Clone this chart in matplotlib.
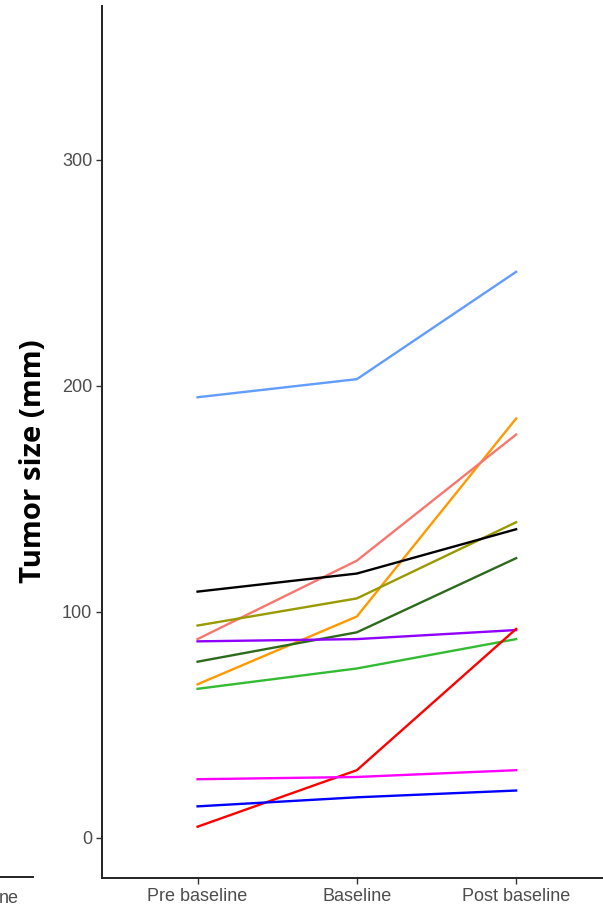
import matplotlib
matplotlib.use("Agg")
import matplotlib.pyplot as plt
from matplotlib.lines import Line2D

categories = ["Pre baseline", "Baseline", "Post baseline"]
yticks = [0, 100, 200, 300]

patients = ["P1", "P2", "P3", "P4", "P5", "P6", "P7", "P8", "P9", "P10", "P11"]
values = {
    "P1": [195, 203, 250.5],
    "P2": [68, 98, 185.6],
    "P3": [88, 122.7, 178.5],
    "P4": [94, 106, 139.7],
    "P5": [109, 117, 136.6],
    "P6": [78, 91, 123.8],
    "P7": [87, 88, 92],
    "P8": [66, 75, 88],
    "P9": [5, 30, 92.5],
    "P10": [26, 27, 30],
    "P11": [14, 18, 21],
}
colors = {
    "P1": "#619CFF",
    "P2": "#FF9900",
    "P3": "#F8766D",
    "P4": "#999900",
    "P5": "#000000",
    "P6": "#2D6A1E",
    "P7": "#8F00FF",
    "P8": "#33BB33",
    "P9": "#FF0000",
    "P10": "#FF00FF",
    "P11": "#0000FF",
}

fig = plt.figure(figsize=(6.03, 9.07), dpi=100)
ax = fig.add_axes([102 / 603, 1 - 878 / 907, 509.7 / 603, 872 / 907])

x = list(range(1, len(categories) + 1))
for p in patients:
    ax.plot(x, values[p], color=colors[p], lw=1.7, solid_joinstyle="round")

ax.set_xlim(0.4, 3.6)
ax.set_ylim(-17.7, 368.1)
ax.set_xticks(x)
ax.set_xticklabels(categories, fontfamily="Liberation Sans", fontsize=13, color="#4D4D4D")
ax.set_yticks(yticks)
ax.set_yticklabels([str(t) for t in yticks], fontfamily="Liberation Sans", fontsize=13, color="#4D4D4D")
ax.tick_params(axis="both", length=4, width=1, color="#333333", pad=3)
for s in ["top", "right"]:
    ax.spines[s].set_visible(False)
for s in ["left", "bottom"]:
    ax.spines[s].set_linewidth(1.4)
    ax.spines[s].set_color("#222222")
ax.set_ylabel("Tumor size (mm)", fontfamily="Open Sans", fontweight="bold", fontsize=21.2, color="black")
ax.yaxis.set_label_coords(34 / 603, 1 - 461.5 / 907, transform=fig.transFigure)
ax.yaxis.label.set_va("center")
ax.yaxis.label.set_ha("center")

# fragment of neighbouring panel at bottom-left
fig.add_artist(Line2D([0, 33 / 603], [1 - 877 / 907, 1 - 877 / 907], transform=fig.transFigure, color="#222222", lw=1.4))
fig.text(-1 / 603, 1 - 903 / 907, "ne", fontfamily="Liberation Sans", fontsize=13, color="#4D4D4D", ha="left", va="baseline")

fig.savefig("out.png", dpi=100)
